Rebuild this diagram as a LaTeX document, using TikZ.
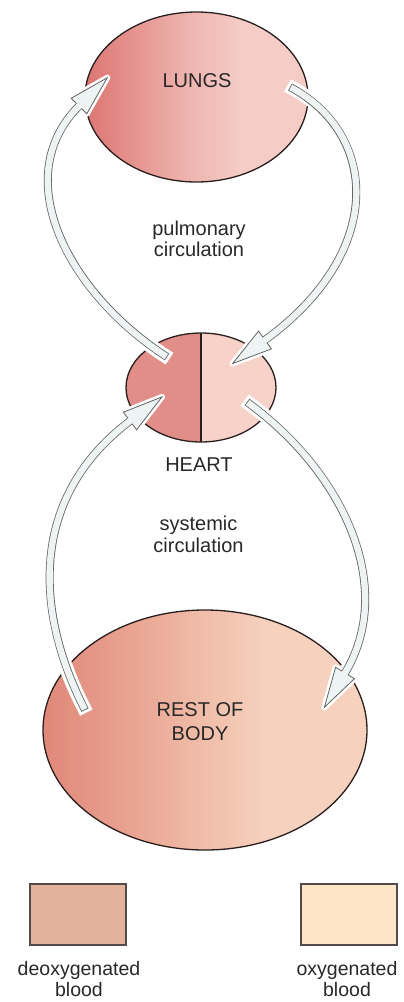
\documentclass[tikz,border=0pt]{standalone}
\usepackage{fontspec}
\setmainfont{Liberation Sans}
\usetikzlibrary{shapes.geometric,calc}

\definecolor{ink}{RGB}{40,40,40}
\definecolor{outl}{RGB}{40,30,30}
\definecolor{agray}{RGB}{100,100,100}
\definecolor{afill}{RGB}{238,243,243}
% lungs
\definecolor{lgA}{RGB}{220,118,116}
\definecolor{lgB}{RGB}{229,145,140}
\definecolor{lgC}{RGB}{238,180,175}
\definecolor{lgD}{RGB}{245,204,198}
% heart
\definecolor{hL}{RGB}{225,142,136}
\definecolor{hR}{RGB}{246,210,200}
% body
\definecolor{bdA}{RGB}{224,136,122}
\definecolor{bdB}{RGB}{232,160,142}
\definecolor{bdC}{RGB}{240,190,170}
\definecolor{bdD}{RGB}{246,210,190}
% legend
\definecolor{legDeoxy}{RGB}{226,178,155}
\definecolor{legOxy}{RGB}{252,230,198}

\pgfdeclarehorizontalshading{lungshade}{100bp}{color(0bp)=(lgA); color(25bp)=(lgA); color(35bp)=(lgB); color(48bp)=(lgC); color(60bp)=(lgD); color(75bp)=(lgD); color(100bp)=(lgD)}
\pgfdeclarehorizontalshading{bodyshade}{100bp}{color(0bp)=(bdA); color(25bp)=(bdA); color(37bp)=(bdB); color(50bp)=(bdC); color(60bp)=(bdD); color(75bp)=(bdD); color(100bp)=(bdD)}

\tikzset{
  organ/.style={ellipse, draw=outl, line width=1.3pt, inner sep=0pt},
  lbl/.style={inner sep=0pt, text=ink, font=\fontsize{20}{22}\selectfont, align=center},
  halo/.style={draw=white, line width=14pt, line cap=rect, shorten <=4pt},
  shaftout/.style={draw=agray, line width=8pt},
  shaftin/.style={draw=afill, line width=6.4pt, shorten <=0.8pt},
  headst/.style={draw=agray, fill=afill, line width=0.8pt, line join=miter},
  stripe/.style={draw=white, opacity=0.28, line width=1.4pt},
  legbox/.style={draw=outl!80, line width=1.2pt, inner sep=0pt, minimum width=96pt, minimum height=61pt}
}

% #1 tail coord, #2 tail angle, #3 tail control length, #4 head base coord, #5 head angle, #6 head control length
\newcommand\bloodarrow[6]{%
  \draw[halo] (#1) .. controls +(#2:#3) and +({#5+180}:#6) .. (#4);
  \begin{scope}[shift={(#4)}, rotate=#5]
    \draw[white, line width=6pt, line join=round, fill=white] (0,11) -- (40,0) -- (0,-11) -- cycle;
  \end{scope}
  \draw[shaftout] (#1) .. controls +(#2:#3) and +({#5+180}:#6) .. (#4);
  \begin{scope}[shift={(#4)}, rotate=#5]
    \draw[headst] (0,11) -- (40,0) -- (0,-11) -- cycle;
  \end{scope}
  \draw[shaftin] (#1) .. controls +(#2:#3) and +({#5+180}:#6) .. (#4);
  \begin{scope}[shift={(#4)}, rotate=#5]
    \fill[afill] (-0.5,-3.2) rectangle (1.5,3.2);
  \end{scope}
}

\begin{document}
\begin{tikzpicture}[x=1pt, y=1pt]
\useasboundingbox (0,0) rectangle (404,-1002);

% organs
\node[organ, shading=lungshade, minimum width=223pt, minimum height=170pt,
  path picture={
    \begin{scope}
      \clip (185,-200) rectangle (330,20);
      \foreach \k in {0,...,75} \draw[stripe] (-20+\k*5,-200) -- ++(200,200);
    \end{scope}
  }] (lungs) at (196.5,-97) {};
\node[organ, minimum width=150pt, minimum height=109pt,
  path picture={
    \fill[hL] (path picture bounding box.south west) rectangle (path picture bounding box.north);
    \fill[hR] (path picture bounding box.south) rectangle (path picture bounding box.north east);
    \begin{scope}
      \clip (201,-450) rectangle (280,-320);
      \foreach \k in {0,...,50} \draw[stripe] (80+\k*5,-450) -- ++(130,130);
    \end{scope}
    \draw[outl, line width=1.1pt] (path picture bounding box.north) -- (path picture bounding box.south);
  }] (heart) at (201,-387.5) {};
\node[organ, shading=bodyshade, minimum width=324pt, minimum height=240pt,
  path picture={
    \foreach \k in {0,...,42} \draw[stripe, opacity=0.22] (200+\k*4,-600) -- ++(0,-260);
  }] (body) at (205,-730) {};

% arrow end points
\coordinate (t1) at (167,-357);
\coordinate (b1) at (79,-106);
\coordinate (t2) at (290,-87);
\coordinate (b2) at (265,-340);
\coordinate (t3) at (85,-710);
\coordinate (b3) at (130,-421);
\coordinate (t4) at (247,-402);
\coordinate (b4) at (345,-673);

\bloodarrow{t1}{147}{120}{b1}{45}{100}
\bloodarrow{t2}{-28}{100}{b2}{216}{150}
\bloodarrow{t3}{117}{120}{b3}{37}{120}
\bloodarrow{t4}{-36}{120}{b4}{239}{100}

% labels
\node[lbl] (lungsT) at (197,-80.5) {LUNGS};
\node[lbl, font=\fontsize{20}{21.5}\selectfont] (pulm) at (199,-238.7) {pulmonary\\circulation};
\node[lbl] (heartT) at (199,-464.5) {HEART};
\node[lbl, font=\fontsize{20}{22.5}\selectfont] (syst) at (198.5,-534.3) {systemic\\circulation};
\node[lbl, font=\fontsize{20}{24}\selectfont] (bodyT) at (200,-721.2) {REST OF\\BODY};

% legend
\node[legbox, fill=legDeoxy] (deoxy) at (78,-914.5) {};
\node[legbox, fill=legOxy] (oxy) at (349,-914.5) {};
\node[lbl, font=\fontsize{19.5}{21}\selectfont] (deoxyT) at (79,-979.5) {deoxygenated\\blood};
\node[lbl, font=\fontsize{19.5}{21}\selectfont] (oxyT) at (347,-979.5) {oxygenated\\blood};
\end{tikzpicture}
\end{document}
